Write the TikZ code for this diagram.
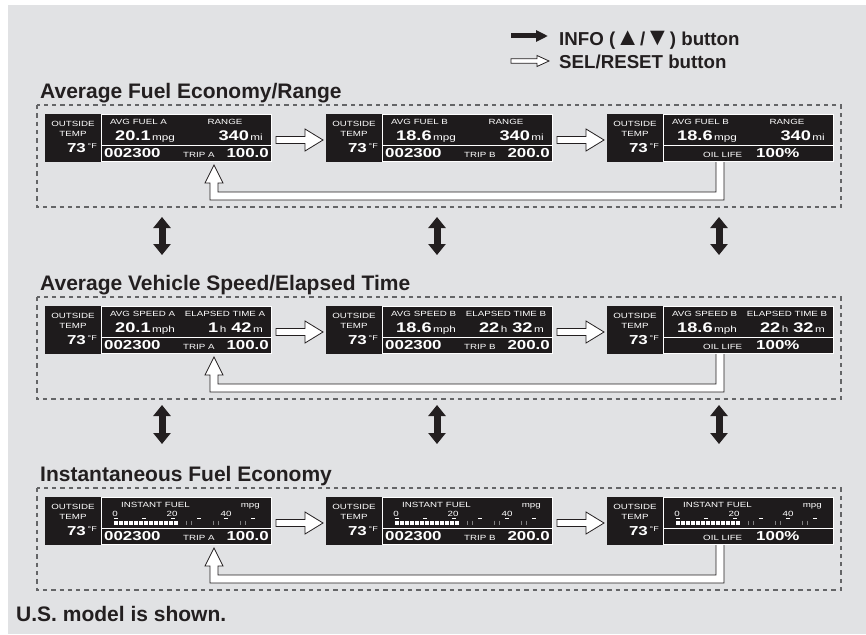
\documentclass[tikz,border=0pt]{standalone}
\usepackage{fontspec}
\setmainfont{Liberation Sans}
\newfontfamily\lcdfont[FakeStretch=1.3]{Liberation Sans}
\usetikzlibrary{arrows.meta, positioning, calc}
\definecolor{pagegray}{RGB}{225, 226, 228}
\definecolor{ink}{RGB}{35, 31, 32}
\definecolor{lcdblack}{RGB}{30, 27, 28}
\definecolor{dashgray}{RGB}{100, 101, 103}

\newcommand{\numunit}[2]{{\bfseries\fontsize{14}{15}\selectfont #1}{\fontsize{9}{10}\selectfont\,#2}}
\newcommand{\bigtri}[1]{{\fontsize{25}{25}\selectfont #1}}

\newcommand{\lcdframe}[1]{%
  \begin{scope}[shift={(#1.north west)}]
    \draw[lcdrule] (56.5,0.7) rectangle (226.3,47.3);
    \draw[lcdrule] (56.5,31) -- (226.3,31);
    \node[lcdsmall, anchor=base] (#1-out) at (28,12.5) {OUTSIDE};
    \node[lcdsmall, anchor=base] (#1-temp) at (28,22.5) {TEMP};
    \node[lcdbig, anchor=base east] (#1-deg) at (41,38.5) {73};
    \node[lcdsmall, anchor=base west, font=\lcdfont\fontsize{7}{7}\selectfont] (#1-unit) at (42.5,34.5) {°F};
  \end{scope}}

\newcommand{\lcdpair}[5]{%
  \begin{scope}[shift={(#1.north west)}]
    \node[lcdsmall, anchor=base west] (#1-la) at (65,10.5) {#2};
    \node[lcdval, anchor=base west] (#1-va) at (70,26) {#3};
    \node[lcdsmall, anchor=base] (#1-lb) at (180,10.5) {#4};
    \node[lcdval, anchor=base east] (#1-vb) at (218,26) {#5};
  \end{scope}}

\newcommand{\lcdtrip}[3]{%
  \begin{scope}[shift={(#1.north west)}]
    \node[lcdbig, anchor=base west] (#1-odo) at (59,43.5) {002300};
    \node[lcdsmall, anchor=base west] (#1-trip) at (138,43.5) {TRIP #2};
    \node[lcdbig, anchor=base east] (#1-tv) at (224,43.5) {#3};
  \end{scope}}

\newcommand{\lcdoil}[1]{%
  \begin{scope}[shift={(#1.north west)}]
    \node[lcdsmall, anchor=base west] (#1-oil) at (96,43.5) {OIL LIFE};
    \node[lcdbig, anchor=base west] (#1-ov) at (149,43.5) {100\%};
  \end{scope}}

\newcommand{\lcdinst}[1]{%
  \begin{scope}[shift={(#1.north west)}]
    \node[lcdsmall, anchor=base west] (#1-la) at (76,10.5) {INSTANT FUEL};
    \node[lcdsmall, anchor=base east] (#1-lb) at (215,10.5) {mpg};
    \node[lcdsmall, anchor=base] (#1-s0) at (70,19) {0};
    \node[lcdsmall, anchor=base] (#1-s20) at (127,19) {20};
    \node[lcdsmall, anchor=base] (#1-s40) at (181,19) {40};
    \foreach \i in {0,...,12} \fill[white] (69+\i*5,23.5) rectangle ++(4,4);
    \foreach \xm in {69,97,126,152,179,206} \fill[white] (\xm,20.6) rectangle ++(4,1.5);
    \foreach \xt in {141,146,168,173,195,200} \draw[gray, line width=0.5pt] (\xt,23.5) -- ++(0,4);
  \end{scope}}

% SEL/RESET block arrows
\newcommand{\selright}[2]{%
  \filldraw[selarrow] ($(#1.east)+(4,-1.5)$) -- ($(#2.west)+(-21,-1.5)$) -- ($(#2.west)+(-21,-9)$)
    -- ($(#2.west)+(-3,2)$) -- ($(#2.west)+(-21,13)$) -- ($(#2.west)+(-21,5.5)$)
    -- ($(#1.east)+(4,5.5)$) -- cycle;}
\newcommand{\selback}[2]{%
  \filldraw[selarrow] ($(#1.south)+(-4.5,0)$) -- ($(#1.south)+(-4.5,30)$) -- ($(#2.south east)+(-54,30)$)
    -- ($(#2.south east)+(-54,21)$) -- ($(#2.south east)+(-49,21)$) -- ($(#2.south east)+(-58,3)$)
    -- ($(#2.south east)+(-67,21)$) -- ($(#2.south east)+(-62,21)$) -- ($(#2.south east)+(-62,38)$)
    -- ($(#1.south)+(3.5,38)$) -- ($(#1.south)+(3.5,0)$);}

\begin{document}
\begin{tikzpicture}[x=1pt, y=-1pt,
    lcd/.style={rectangle, fill=lcdblack, minimum width=227pt, minimum height=48pt,
                inner sep=0pt, outer sep=0pt},
    lcdrule/.style={draw=white, line width=0.7pt},
    lcdsmall/.style={font=\lcdfont\fontsize{7.5}{8}\selectfont, text=white, inner sep=0pt},
    lcdbig/.style={font=\lcdfont\bfseries\fontsize{13}{14}\selectfont, text=white, inner sep=0pt},
    lcdval/.style={font=\lcdfont, text=white, inner sep=0pt},
    title/.style={font=\bfseries\fontsize{21}{24}\selectfont, text=ink, inner sep=0pt, anchor=base west},
    legendtext/.style={font=\bfseries\fontsize{18.7}{22}\selectfont, text=ink, inner sep=0pt, anchor=base west},
    groupbox/.style={draw=dashgray, line width=1.1pt, dash pattern=on 4.3pt off 4pt},
    selarrow/.style={fill=white, draw=ink, line width=0.8pt, line join=miter},
    infoline/.style={draw=ink, line width=5pt, -{Triangle[length=12pt, width=11pt]}},
    infoboth/.style={draw=ink, line width=7pt,
                     {Triangle[length=11pt, width=17pt]}-{Triangle[length=11pt, width=17pt]}}
]
\useasboundingbox (0,0) rectangle (866,634);
\fill[pagegray] (8,5) rectangle (866,634);

% legend
\coordinate (infoL) at (511,36);
\coordinate (infoR) at (548,36);
\draw[infoline] (infoL) -- (infoR);
\node[legendtext] (leginfo) at (559,45.5) {INFO (\bigtri{▲}/\bigtri{▼}) button};
\coordinate (selL) at (511,61);
\coordinate (selR) at (549,61);
\filldraw[selarrow] ($(selL)+(0,-2.3)$) -- ($(selR)+(-12,-2.3)$) -- ($(selR)+(-12,-5.5)$) -- (selR)
    -- ($(selR)+(-12,5.5)$) -- ($(selR)+(-12,2.3)$) -- ($(selL)+(0,2.3)$) -- cycle;
\node[legendtext] (legsel) at (559,68.5) {SEL/RESET button};

% displays
\node[lcd] (d11) at (158.5,138) {};
\node[lcd, right=54pt of d11] (d12) {};
\node[lcd, right=54pt of d12] (d13) {};
\node[lcd, below=144pt of d11] (d21) {};
\node[lcd, right=54pt of d21] (d22) {};
\node[lcd, right=54pt of d22] (d23) {};
\node[lcd, below=143pt of d21] (d31) {};
\node[lcd, right=54pt of d31] (d32) {};
\node[lcd, right=54pt of d32] (d33) {};

\foreach \d in {d11,d12,d13,d21,d22,d23,d31,d32,d33} {\lcdframe{\d}}

\lcdpair{d11}{AVG FUEL A}{\numunit{20.1}{mpg}}{RANGE}{\numunit{340}{mi}}
\lcdpair{d12}{AVG FUEL B}{\numunit{18.6}{mpg}}{RANGE}{\numunit{340}{mi}}
\lcdpair{d13}{AVG FUEL B}{\numunit{18.6}{mpg}}{RANGE}{\numunit{340}{mi}}
\lcdpair{d21}{AVG SPEED A}{\numunit{20.1}{mph}}{ELAPSED TIME A}{\numunit{1}{h}\enspace\numunit{42}{m}}
\lcdpair{d22}{AVG SPEED B}{\numunit{18.6}{mph}}{ELAPSED TIME B}{\numunit{22}{h}\enspace\numunit{32}{m}}
\lcdpair{d23}{AVG SPEED B}{\numunit{18.6}{mph}}{ELAPSED TIME B}{\numunit{22}{h}\enspace\numunit{32}{m}}
\lcdinst{d31}
\lcdinst{d32}
\lcdinst{d33}

\lcdtrip{d11}{A}{100.0}
\lcdtrip{d12}{B}{200.0}
\lcdoil{d13}
\lcdtrip{d21}{A}{100.0}
\lcdtrip{d22}{B}{200.0}
\lcdoil{d23}
\lcdtrip{d31}{A}{100.0}
\lcdtrip{d32}{B}{200.0}
\lcdoil{d33}

% titles and dashed groups
\node[title] (t1) at ($(d11.north west)+(-5,-16)$) {Average Fuel Economy/Range};
\node[title] (t2) at ($(d21.north west)+(-5,-16)$) {Average Vehicle Speed/Elapsed Time};
\node[title] (t3) at ($(d31.north west)+(-5,-16)$) {Instantaneous Fuel Economy};
\draw[groupbox] ($(d11.north west)+(-8,-9)$) rectangle ($(d13.south east)+(7,45)$);
\draw[groupbox] ($(d21.north west)+(-8,-9)$) rectangle ($(d23.south east)+(7,45)$);
\draw[groupbox] ($(d31.north west)+(-8,-9)$) rectangle ($(d33.south east)+(7,45)$);

% SEL/RESET
\selright{d11}{d12}
\selright{d12}{d13}
\selback{d13}{d11}
\selright{d21}{d22}
\selright{d22}{d23}
\selback{d23}{d21}
\selright{d31}{d32}
\selright{d32}{d33}
\selback{d33}{d31}

% INFO up/down
\coordinate (a1) at (162,217);
\coordinate (b1) at (162,255);
\coordinate (a2) at (437,217);
\coordinate (b2) at (437,255);
\coordinate (a3) at (719,217);
\coordinate (b3) at (719,255);
\coordinate (a4) at (162,405);
\coordinate (b4) at (162,444);
\coordinate (a5) at (437,405);
\coordinate (b5) at (437,444);
\coordinate (a6) at (719,405);
\coordinate (b6) at (719,444);
\draw[infoboth] (a1) -- (b1);
\draw[infoboth] (a2) -- (b2);
\draw[infoboth] (a3) -- (b3);
\draw[infoboth] (a4) -- (b4);
\draw[infoboth] (a5) -- (b5);
\draw[infoboth] (a6) -- (b6);

\node[title] (note) at (16,621) {U.S. model is shown.};
\end{tikzpicture}
\end{document}
